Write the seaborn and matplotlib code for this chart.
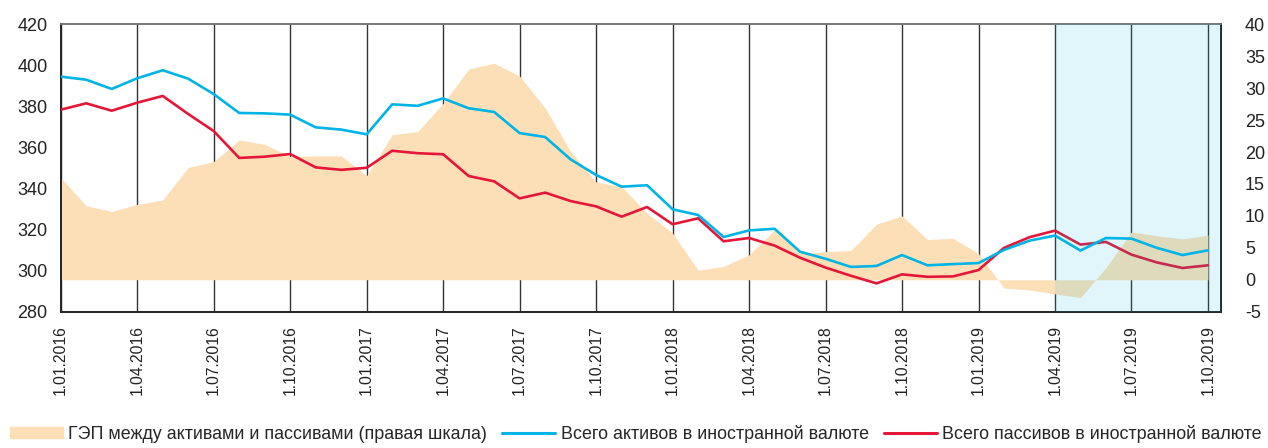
import matplotlib
matplotlib.use("Agg")
import matplotlib.pyplot as plt
import matplotlib.patches as mpatches
import matplotlib.lines as mlines
import seaborn as sns
import pandas as pd
import numpy as np

# monthly values, 1.01.2016 .. 1.10.2019
assets = [394.5, 393.0, 388.5, 393.7, 397.6, 393.5, 386.0, 376.8, 376.6, 376.0,
          369.8, 368.7, 366.4, 381.0, 380.3, 383.9, 379.1, 377.3, 367.0, 365.1,
          354.2, 346.6, 340.9, 341.6, 329.9, 327.1, 316.4, 319.6, 320.4, 309.2,
          305.8, 301.8, 302.3, 307.6, 302.6, 303.2, 303.7, 310.1, 314.6, 317.1,
          309.8, 315.9, 315.6, 311.1, 307.6, 309.9]
liabilities = [378.4, 381.5, 377.9, 381.8, 385.1, 376.3, 368.0, 354.9, 355.5, 356.8,
               350.3, 349.1, 350.1, 358.4, 357.2, 356.7, 346.1, 343.5, 335.2, 338.0,
               333.9, 331.3, 326.3, 331.0, 322.6, 325.5, 314.3, 315.9, 312.2, 306.3,
               301.5, 297.5, 293.8, 298.2, 297.0, 297.2, 300.3, 311.1, 316.3, 319.5,
               312.7, 314.0, 307.8, 304.0, 301.3, 302.6]
gap = [16.0, 11.6, 10.7, 11.8, 12.5, 17.6, 18.5, 21.9, 21.2, 19.3,
       19.4, 19.4, 16.3, 22.7, 23.2, 27.6, 33.0, 33.9, 31.9, 26.9,
       20.1, 15.3, 14.6, 10.4, 7.3, 1.5, 2.1, 3.9, 7.8, 4.1,
       4.4, 4.6, 8.7, 10.0, 6.3, 6.5, 4.1, -1.3, -1.6, -2.2,
       -2.8, 1.9, 7.5, 6.9, 6.4, 7.0]
tick_labels = ["1.01.2016", "1.04.2016", "1.07.2016", "1.10.2016",
               "1.01.2017", "1.04.2017", "1.07.2017", "1.10.2017",
               "1.01.2018", "1.04.2018", "1.07.2018", "1.10.2018",
               "1.01.2019", "1.04.2019", "1.07.2019", "1.10.2019"]
forecast_start = "1.04.2019"

df = pd.DataFrame({"assets": assets, "liabilities": liabilities, "gap": gap})
df["month"] = np.arange(len(df))
tick_pos = df["month"].values[::3]

C_BLUE = "#00b4e6"
C_RED = "#e4163a"
C_AREA = "#fddfb7"

sns.set_style("white")
plt.rcParams["font.family"] = ["Liberation Sans", "DejaVu Sans"]
plt.rcParams["axes.unicode_minus"] = False

fig = plt.figure(figsize=(12.68, 4.48), dpi=100)
ax = fig.add_axes([0.0479, 0.3042, 0.9148, 0.6416])
ax2 = ax.twinx()

# right axis: the gap area, drawn underneath
ax.set_zorder(ax2.get_zorder() + 1)
ax.patch.set_visible(False)
ax2.patch.set_visible(True)
ax2.patch.set_facecolor("white")
ax2.fill_between(df["month"], 0, df["gap"], color=C_AREA, linewidth=0, zorder=2)
ax2.xaxis.set_visible(True)
ax2.set_axisbelow(True)
ax2.grid(axis="x", color="#333333", linewidth=1.0)
ax2.grid(axis="y", visible=False)
ax2.tick_params(axis="x", bottom=False, labelbottom=False)
ax2.set_ylim(-5, 40)
ax2.set_yticks(range(-5, 41, 5))
ax2.tick_params(axis="y", right=False, labelsize=13, pad=14, colors="#222222")

# left axis: the two lines
sns.lineplot(data=df, x="month", y="liabilities", ax=ax, color=C_RED, linewidth=1.9, zorder=3)
sns.lineplot(data=df, x="month", y="assets", ax=ax, color=C_BLUE, linewidth=1.9, zorder=4)
ax.axvspan(tick_labels.index(forecast_start) * 3, len(df) - 0.5, color="#00bce6", alpha=0.12,
           linewidth=0, zorder=5)
ax.set_ylim(280, 420)
ax.set_yticks(range(280, 421, 20))
ax.set_xlim(0, len(df) - 0.5)
ax.set_xticks(tick_pos)
ax.set_xticklabels(tick_labels, rotation=90, fontsize=11.3)
ax.tick_params(axis="y", left=False, labelsize=13, pad=6, colors="#222222")
ax.tick_params(axis="x", bottom=False, pad=6, colors="#222222")
ax.set_xlabel("")
ax.set_ylabel("")
ax2.set_ylabel("")

for a in (ax, ax2):
    for side, sp in a.spines.items():
        sp.set_linewidth(1.2)
        sp.set_color("#222222")
    a.spines["top"].set_color("#777777")

handles = [
    mpatches.Patch(color=C_AREA, label="ГЭП между активами и пассивами (правая шкала)"),
    mlines.Line2D([], [], color=C_BLUE, linewidth=2.2, label="Всего активов в иностранной валюте"),
    mlines.Line2D([], [], color=C_RED, linewidth=2.2, label="Всего пассивов в иностранной валюте"),
]
fig.legend(handles=handles, loc="lower left", bbox_to_anchor=(-0.002, -0.017), ncol=3,
           frameon=False, handlelength=2.95, handleheight=0.55,
           handletextpad=0.3, columnspacing=0.85, borderpad=0.2,
           prop={"family": ["Liberation Sans Narrow", "Liberation Sans"], "size": 12.9})

fig.savefig("out.png", dpi=100)
